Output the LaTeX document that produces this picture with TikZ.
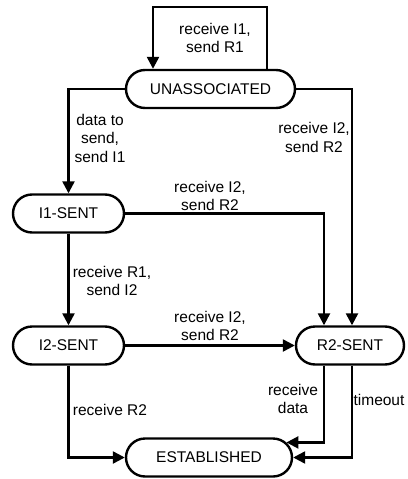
\documentclass[tikz,border=0pt]{standalone}
\usepackage{fontspec}
\setmainfont{Liberation Sans}
\usetikzlibrary{arrows.meta,shapes.misc}
\begin{document}
\begin{tikzpicture}[x=1pt,y=-1pt,
  state/.style={draw,rounded rectangle,line width=2.4pt,minimum height=38pt,inner sep=0pt,
    font=\fontsize{15.5}{18}\selectfont},
  arr/.style={line width=2.4pt,-{Triangle[length=12pt,width=12pt]}},
  lbl/.style={font=\fontsize{15.5}{18.5}\selectfont,align=center,inner sep=0pt}]
\useasboundingbox (0,0) rectangle (407,479);

\node[state,minimum width=169pt] (un) at (210.5,89) {UNASSOCIATED};
\node[state,minimum width=111pt] (i1) at (68.5,213.5) {I1-SENT};
\node[state,minimum width=111pt] (i2) at (68.5,345.5) {I2-SENT};
\node[state,minimum width=108pt] (r2) at (350,345.5) {R2-SENT};
\node[state,minimum width=166pt] (est) at (209,457.5) {ESTABLISHED};

\coordinate (lt) at (267,7);
\coordinate (ll) at (153,7);
\coordinate (cm) at (324,0);
\coordinate (cr) at (352,0);

% self loop
\draw[arr] (un.north -| lt) -- (lt) -- (ll) -- (un.north -| ll);
% unassociated -> i1
\draw[arr] (un.west) -- (un.west -| i1.north) -- (i1.north);
% unassociated -> r2
\draw[arr] (un.east) -| (r2.north -| cr);
% i1 -> r2
\draw[arr] (i1.east) -| (r2.north -| cm);
% i1 -> i2
\draw[arr] (i1.south) -- (i2.north);
% i2 -> r2
\draw[arr] (i2.east) -- (r2.west);
% i2 -> est
\draw[arr] (i2.south) |- (est.west);
% r2 -> est
\draw[arr] (r2.south -| cm) |- (est.11);
\draw[arr] (r2.south -| cr) |- (est.east);

\node[lbl] (l1) at (215,38) {receive I1,\\send R1};
\node[lbl] (l2) at (100,138) {data to\\send,\\send I1};
\node[lbl] (l3) at (314,137.5) {receive I2,\\send R2};
\node[lbl] (l4) at (210,196) {receive I2,\\send R2};
\node[lbl] (l5) at (112,281) {receive R1,\\send I2};
\node[lbl] (l6) at (210,326) {receive I2,\\send R2};
\node[lbl] (l7) at (110,410) {receive R2};
\node[lbl] (l8) at (293,399) {receive\\data};
\node[lbl] (l9) at (379,400) {timeout};
\end{tikzpicture}
\end{document}
